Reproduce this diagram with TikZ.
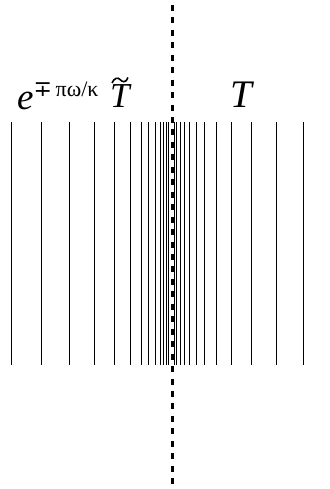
\documentclass[tikz,border=0pt]{standalone}
\usepackage{fontspec}
\setmainfont{Liberation Serif}
\newfontfamily\symfont{DejaVu Sans}
\begin{document}
\begin{tikzpicture}[x=1pt,y=-1pt]
\tikzset{
  ray/.style={line width=0.9pt},
  axisline/.style={line width=3pt, dash pattern=on 6pt off 6.45pt},
  lbl/.style={anchor=base west, inner sep=0pt},
  tildecurve/.style={line width=1.6pt}
}
\useasboundingbox (0,0) rectangle (329,489);
\foreach \x in {11.7,41.7,69,94.3,114,130,141,148.3,155.3,160,163.5,166.3,168.5,174.3,176.7,180,184,189.3,196.5,204.5,216,231.7,251,276.5,303.5}
  \draw[ray] (\x,122) -- (\x,365);
\draw[axisline] (172.5,5) -- (172.5,484);
\node[lbl] (efac) at (17,110) {\fontsize{37}{37}\selectfont\itshape e\upshape\raisebox{13pt}{\fontsize{22}{22}\selectfont{\symfont ∓}\,πω/κ}};
\node[lbl] (Ttil) at (110,108) {\fontsize{35}{35}\selectfont\itshape T};
\draw[tildecurve] (112,83) .. controls (114,78) and (118,77) .. (120,79.5) .. controls (122,82) and (126,83.5) .. (128,77.5);
\node[lbl] (Tright) at (230,108) {\fontsize{39}{39}\selectfont\itshape T};
\end{tikzpicture}
\end{document}
